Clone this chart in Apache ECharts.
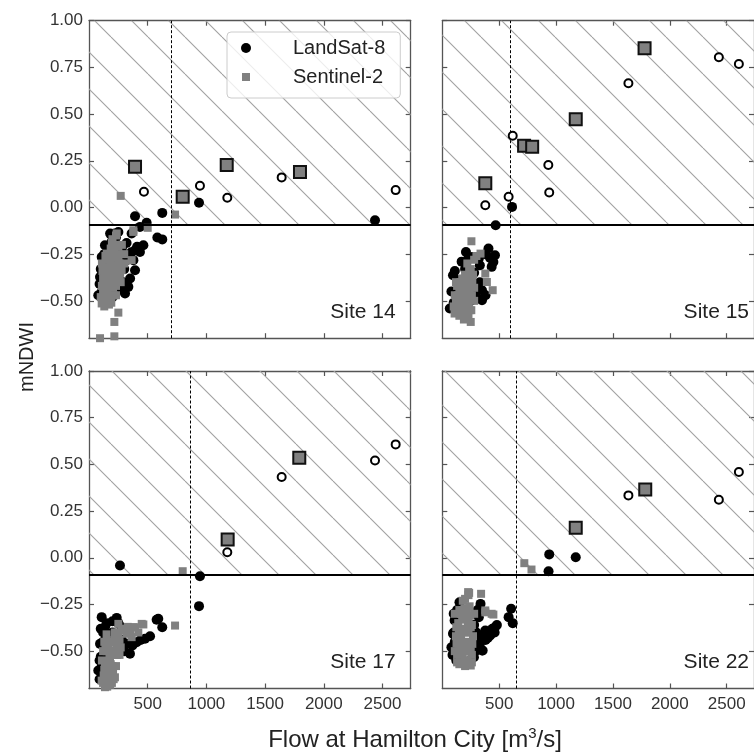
<!DOCTYPE html>
<html>
<head>
<meta charset="utf-8">
<script src="https://cdn.jsdelivr.net/npm/echarts@6/dist/echarts.min.js"></script>
<style>
  html, body { margin: 0; padding: 0; background: #fff; }
  #chart { width: 754px; height: 754px; }
</style>
</head>
<body>
<div id="chart"></div>
<script>
// panel names and thresholds
var siteNames = ['Site 14', 'Site 15', 'Site 17', 'Site 22']
var flowThresholds = [700, 600, 860, 650]
var ndwiThreshold = -0.092
var xTicks = [500, 1000, 1500, 2000, 2500]
var yTicks = [-0.5, -0.25, 0, 0.25, 0.5, 0.75, 1]

// Site 14
var landsat14 = [[392, -0.047], [624, -0.029], [937, 0.025], [2436, -0.068], [491, -0.082], [434, -0.104], [582, -0.161], [624, -0.171],
  [250, -0.131], [136, -0.202], [363, -0.139], [463, -0.202], [392, -0.229], [378, -0.282], [392, -0.336], [335, -0.425], [307, -0.461],
  [94, -0.372], [79, -0.47], [108, -0.265], [193, -0.184], [434, -0.238], [120, -0.30], [150, -0.42], [280, -0.22], [320, -0.19],
  [200, -0.48], [110, -0.45], [350, -0.38], [260, -0.44], [230, -0.16], [410, -0.21],
  [100, -0.33], [130, -0.25], [160, -0.22], [180, -0.35], [210, -0.40], [240, -0.30], [270, -0.27], [300, -0.33], [330, -0.28],
  [360, -0.24], [290, -0.40], [230, -0.44], [170, -0.46], [130, -0.49], [90, -0.41], [220, -0.14], [180, -0.14]]
var sentinel14 = [[270, 0.062], [733, -0.038], [500, -0.109], [250, -0.563], [216, -0.613], [216, -0.69], [94, -0.70], [378, -0.122],
  [236, -0.139], [378, -0.131], [363, -0.282], [108, -0.514], [136, -0.336], [250, -0.211], [221, -0.39], [165, -0.479], [250, -0.282],
  [193, -0.425], [278, -0.336], [151, -0.247], [200, -0.17], [120, -0.45], [180, -0.30], [230, -0.47], [140, -0.40], [260, -0.38],
  [210, -0.23], [170, -0.52], [300, -0.25],
  [110, -0.30], [130, -0.35], [150, -0.32], [160, -0.38], [170, -0.28], [190, -0.35], [200, -0.26], [210, -0.47], [220, -0.20],
  [230, -0.42], [240, -0.34], [250, -0.25], [260, -0.30], [270, -0.40], [100, -0.48], [110, -0.42], [130, -0.53], [150, -0.50],
  [180, -0.41], [190, -0.51], [140, -0.26], [230, -0.15], [280, -0.20], [300, -0.30], [160, -0.44], [120, -0.38],
  [200, -0.31], [215, -0.36], [185, -0.22], [165, -0.33], [145, -0.45], [205, -0.43], [235, -0.27], [175, -0.49], [125, -0.49],
  [195, -0.19], [245, -0.39], [155, -0.37], [225, -0.31], [265, -0.35], [115, -0.34]]
var flagged14 = [[468, 0.084], [945, 0.116], [1178, 0.052], [1641, 0.161], [2612, 0.093]]
var matched14 = [[392, 0.218], [798, 0.057], [1173, 0.227], [1797, 0.19]]

// Site 15
var landsat15 = [[613, 0.003], [469, -0.095], [208, -0.238], [406, -0.22], [463, -0.256], [434, -0.318], [94, -0.363], [136, -0.39],
  [349, -0.443], [349, -0.497], [66, -0.541], [264, -0.265], [151, -0.425], [449, -0.292], [321, -0.273], [120, -0.47], [200, -0.33],
  [80, -0.45], [250, -0.40], [300, -0.48], [180, -0.52],
  [110, -0.34], [170, -0.29], [230, -0.27], [280, -0.35], [380, -0.25], [420, -0.27], [330, -0.40], [300, -0.44], [100, -0.51],
  [150, -0.50], [200, -0.45], [380, -0.47], [250, -0.50], [330, -0.31]]
var sentinel15 = [[256, -0.181], [336, -0.247], [378, -0.354], [392, -0.399], [443, -0.443], [236, -0.336], [208, -0.461], [123, -0.497],
  [108, -0.568], [208, -0.595], [250, -0.613], [179, -0.533], [264, -0.39], [150, -0.45], [220, -0.30], [280, -0.50], [130, -0.42],
  [190, -0.40], [240, -0.55], [100, -0.53],
  [120, -0.40], [140, -0.47], [160, -0.50], [180, -0.43], [200, -0.36], [220, -0.42], [240, -0.45], [260, -0.47], [280, -0.43],
  [170, -0.56], [200, -0.52], [130, -0.55], [230, -0.58], [250, -0.33], [280, -0.28], [300, -0.26], [220, -0.50], [150, -0.58],
  [190, -0.60], [110, -0.47],
  [160, -0.40], [210, -0.48], [240, -0.38], [260, -0.42], [190, -0.48], [145, -0.52], [170, -0.46], [230, -0.52], [255, -0.55],
  [270, -0.36], [120, -0.51], [205, -0.56], [175, -0.38]]
var flagged15 = [[378, 0.012], [583, 0.057], [619, 0.384], [932, 0.227], [940, 0.08], [1636, 0.665], [2431, 0.804], [2607, 0.768]]
var matched15 = [[378, 0.129], [719, 0.33], [790, 0.325], [1173, 0.473], [1778, 0.852]]

// Site 17
var landsat17 = [[264, -0.041], [945, -0.099], [937, -0.259], [590, -0.327], [624, -0.372], [108, -0.318], [236, -0.322], [576, -0.332],
  [477, -0.434], [406, -0.452], [349, -0.514], [94, -0.461], [136, -0.372], [278, -0.372], [79, -0.604], [307, -0.461], [165, -0.425],
  [100, -0.53], [90, -0.65], [120, -0.40], [300, -0.50], [440, -0.44], [520, -0.42],
  [100, -0.38], [120, -0.45], [150, -0.35], [180, -0.50], [200, -0.40], [230, -0.42], [260, -0.46], [280, -0.44], [330, -0.46],
  [370, -0.47], [90, -0.55], [110, -0.58], [140, -0.55], [250, -0.35], [200, -0.34]]
var sentinel17 = [[798, -0.072], [733, -0.363], [463, -0.357], [392, -0.372], [449, -0.354], [378, -0.372], [363, -0.425], [250, -0.354],
  [250, -0.425], [193, -0.497], [136, -0.568], [108, -0.658], [221, -0.64], [179, -0.533], [236, -0.479], [278, -0.39], [136, -0.693],
  [321, -0.407], [150, -0.62], [200, -0.58], [120, -0.50], [260, -0.52], [180, -0.45], [420, -0.40],
  [130, -0.45], [150, -0.50], [170, -0.55], [190, -0.60], [210, -0.65], [160, -0.66], [130, -0.60], [110, -0.55], [230, -0.58],
  [200, -0.45], [220, -0.40], [240, -0.52], [260, -0.44], [300, -0.38], [330, -0.37], [350, -0.39], [180, -0.68], [120, -0.67],
  [150, -0.41], [270, -0.48],
  [165, -0.48], [185, -0.57], [215, -0.52], [205, -0.62], [175, -0.63], [145, -0.58], [125, -0.63], [235, -0.45], [215, -0.44],
  [245, -0.40], [155, -0.69], [195, -0.67], [140, -0.47]]
var flagged17 = [[1178, 0.03], [1641, 0.432], [2436, 0.521], [2612, 0.607]]
var matched17 = [[1181, 0.098], [1791, 0.536]]

// Site 22
var landsat22 = [[940, 0.018], [1173, 0.003], [934, -0.072], [605, -0.273], [583, -0.318], [619, -0.35], [463, -0.372], [355, -0.497],
  [278, -0.533], [336, -0.247], [321, -0.318], [151, -0.238], [108, -0.336], [94, -0.407], [378, -0.39], [349, -0.497], [264, -0.533],
  [80, -0.479], [307, -0.443], [421, -0.416], [123, -0.55], [440, -0.38], [400, -0.43], [100, -0.30], [90, -0.52],
  [130, -0.28], [110, -0.45], [280, -0.36], [300, -0.40], [350, -0.42], [330, -0.46], [380, -0.44], [460, -0.40], [480, -0.36],
  [290, -0.50], [310, -0.28], [120, -0.50], [100, -0.40]]
var sentinel22 = [[721, -0.029], [784, -0.063], [227, -0.184], [341, -0.193], [449, -0.304], [378, -0.282], [236, -0.188], [208, -0.282],
  [250, -0.372], [151, -0.443], [193, -0.55], [250, -0.577], [123, -0.372], [264, -0.461], [165, -0.3], [378, -0.292], [221, -0.497],
  [434, -0.3], [140, -0.50], [200, -0.40], [180, -0.23], [230, -0.33], [130, -0.56], [260, -0.52],
  [110, -0.30], [120, -0.42], [140, -0.35], [150, -0.28], [160, -0.48], [170, -0.38], [180, -0.52], [190, -0.33], [200, -0.22],
  [210, -0.45], [220, -0.55], [230, -0.40], [240, -0.26], [250, -0.50], [260, -0.36], [270, -0.42], [280, -0.30], [130, -0.52],
  [150, -0.57], [200, -0.58], [180, -0.28], [110, -0.50], [230, -0.20], [260, -0.56],
  [145, -0.40], [165, -0.43], [185, -0.46], [205, -0.50], [175, -0.33], [195, -0.27], [215, -0.30], [225, -0.35], [155, -0.52],
  [125, -0.46], [245, -0.31], [235, -0.47], [175, -0.56], [215, -0.39]]
var flagged22 = [[1636, 0.334], [2431, 0.311], [2607, 0.459]]
var matched22 = [[1173, 0.161], [1784, 0.366]]

var landsat = [landsat14, landsat15, landsat17, landsat22]
var sentinel = [sentinel14, sentinel15, sentinel17, sentinel22]
var flagged = [flagged14, flagged15, flagged17, flagged22]
var matched = [matched14, matched15, matched17, matched22]

var FONT = '"Liberation Sans", Arial, sans-serif'
var FRAME = '#555'
var panelLeft = [89, 442.3, 89, 442.3]
var panelTop = [20.7, 20.7, 371, 371]
var panelW = 321.7
var panelH = 317.5

// diagonal hatch tile
function hatchTile() {
  var s = 37
  var c = document.createElement('canvas')
  c.width = s
  c.height = s
  var ctx = c.getContext('2d')
  ctx.strokeStyle = '#a0a0a0'
  ctx.lineWidth = 1.1
  for (var k = -s; k <= s; k += s) {
    ctx.beginPath()
    ctx.moveTo(k, 0)
    ctx.lineTo(k + s, s)
    ctx.stroke()
  }
  return c
}
var hatch = { image: hatchTile(), repeat: 'repeat' }

function fmtY(v) {
  var t = Math.abs(v).toFixed(2)
  return v < 0 ? '\u2212' + t : t
}

var grids = []
var xAxes = []
var yAxes = []
var series = []

for (var i = 0; i < 4; i++) {
  grids.push({ left: panelLeft[i], top: panelTop[i], width: panelW, height: panelH, containLabel: false })
  var showX = i >= 2
  var showY = i % 2 === 0
  var baseX = {
    type: 'value', gridIndex: i, min: 0, max: 2740,
    splitLine: { show: false },
    axisLine: { show: true, onZero: false, lineStyle: { color: FRAME, width: 1.3 } },
    axisTick: { show: true, inside: true, length: 5, customValues: xTicks, lineStyle: { color: FRAME, width: 1.2 } }
  }
  xAxes.push(Object.assign({}, baseX, {
    position: 'bottom',
    axisLabel: {
      show: showX, customValues: xTicks, fontSize: 17, fontFamily: FONT, color: '#333', margin: 7,
      formatter: function (v) { return String(v) }
    }
  }))
  xAxes.push(Object.assign({}, baseX, { position: 'top', axisLabel: { show: false } }))
  var baseY = {
    type: 'value', gridIndex: i, min: -0.7, max: 1.0,
    splitLine: { show: false },
    axisLine: { show: true, onZero: false, lineStyle: { color: FRAME, width: 1.3 } },
    axisTick: { show: true, inside: true, length: 5, customValues: yTicks, lineStyle: { color: FRAME, width: 1.2 } }
  }
  yAxes.push(Object.assign({}, baseY, {
    position: 'left',
    axisLabel: { show: showY, customValues: yTicks, fontSize: 17, fontFamily: FONT, color: '#333', margin: 6, formatter: fmtY }
  }))
  yAxes.push(Object.assign({}, baseY, { position: 'right', axisLabel: { show: false } }))

  var xi = 2 * i
  var yi = 2 * i
  // hatched region above threshold
  series.push({
    type: 'scatter', xAxisIndex: xi, yAxisIndex: yi, data: [], z: 1, silent: true,
    markArea: {
      silent: true,
      itemStyle: { color: hatch, borderWidth: 0 },
      data: [[{ yAxis: ndwiThreshold }, { yAxis: 1.0 }]]
    }
  })
  // threshold lines
  series.push({
    type: 'scatter', xAxisIndex: xi, yAxisIndex: yi, data: [], z: 2, silent: true,
    markLine: {
      silent: true, symbol: ['none', 'none'], animation: false,
      label: { show: false },
      data: [
        { yAxis: ndwiThreshold, lineStyle: { color: '#000', width: 2, type: 'solid' } },
        { xAxis: flowThresholds[i], lineStyle: { color: '#000', width: 1, type: [3, 2] } }
      ]
    }
  })
  series.push({
    name: 'LandSat-8', type: 'scatter', xAxisIndex: xi, yAxisIndex: yi, z: 3,
    symbol: 'circle', symbolSize: 10, itemStyle: { color: '#000', opacity: 1 },
    data: landsat[i]
  })
  series.push({
    name: 'Sentinel-2', type: 'scatter', xAxisIndex: xi, yAxisIndex: yi, z: 4,
    symbol: 'rect', symbolSize: 8, itemStyle: { color: '#808080', opacity: 1 },
    data: sentinel[i]
  })
  series.push({
    name: 'flagged', type: 'scatter', xAxisIndex: xi, yAxisIndex: yi, z: 5,
    symbol: 'circle', symbolSize: 8, itemStyle: { color: '#fff', borderColor: '#000', borderWidth: 2, opacity: 1 },
    data: flagged[i]
  })
  series.push({
    name: 'matched', type: 'scatter', xAxisIndex: xi, yAxisIndex: yi, z: 6,
    symbol: 'rect', symbolSize: 12, itemStyle: { color: '#808080', borderColor: '#111', borderWidth: 2, opacity: 1 },
    data: matched[i]
  })
}

var siteTexts = siteNames.map(function (name, i) {
  return {
    type: 'text', z: 100,
    x: panelLeft[i] + panelW - 15, y: panelTop[i] + 291.5,
    style: { text: name, font: '21px ' + FONT, fill: '#222', align: 'right', verticalAlign: 'middle' }
  }
})

var chart = echarts.init(document.getElementById('chart'), null, { renderer: 'canvas' })
chart.setOption({
  animation: false,
  backgroundColor: '#fff',
  grid: grids,
  xAxis: xAxes,
  yAxis: yAxes,
  legend: {
    data: [
      { name: 'LandSat-8', icon: 'circle' },
      { name: 'Sentinel-2', icon: 'path://M0,0L0,0M10,10L10,10M1,1L9,1L9,9L1,9Z' }
    ],
    orient: 'vertical',
    left: 227, top: 32,
    itemWidth: 10, itemHeight: 10, itemGap: 9,
    padding: [6, 15, 11, 14],
    backgroundColor: 'rgba(255,255,255,0.8)',
    borderColor: '#ccc', borderWidth: 1, borderRadius: 4,
    selectedMode: false,
    formatter: '{t|{name}}',
    textStyle: {
      rich: { t: { fontSize: 20, fontFamily: FONT, color: '#222', lineHeight: 22, padding: [0, 0, 0, 37] } }
    }
  },
  graphic: siteTexts.concat([
    {
      type: 'text', z: 100, x: 27, y: 357, rotation: Math.PI / 2,
      style: { text: 'mNDWI', font: '20px ' + FONT, fill: '#222', align: 'center', verticalAlign: 'middle' }
    },
    {
      type: 'text', z: 100, x: 415, y: 740,
      style: {
        text: '{a|Flow at Hamilton City [m}{s|3}{a|/s]}', align: 'center', verticalAlign: 'middle',
        rich: {
          a: { fontSize: 24, fontFamily: FONT, fill: '#222', lineHeight: 28 },
          s: { fontSize: 15, fontFamily: FONT, fill: '#222', lineHeight: 14, verticalAlign: 'top' }
        }
      }
    }
  ]),
  series: series
})
</script>
</body>
</html>
